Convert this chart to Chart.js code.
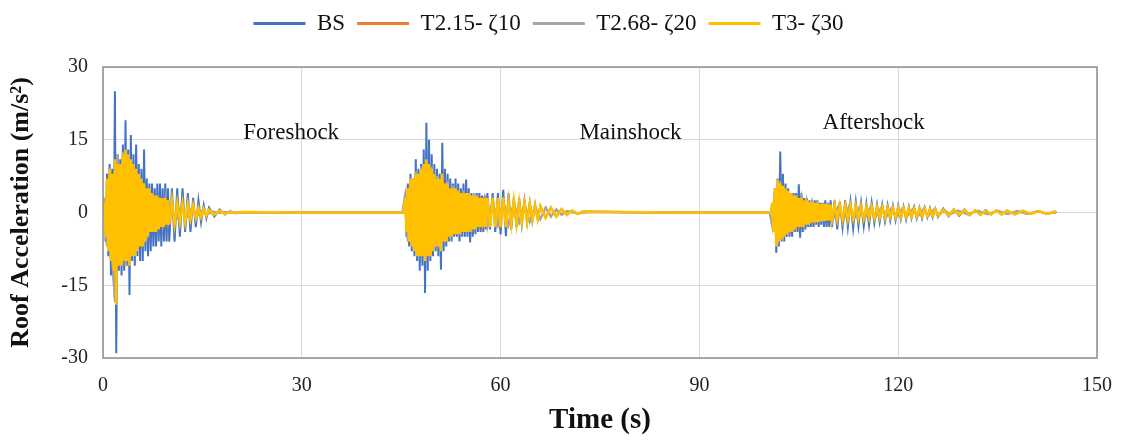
<!DOCTYPE html>
<html>
<head>
<meta charset="utf-8">
<script src="https://cdn.jsdelivr.net/npm/chart.js@4"></script>
<style>
  body { margin: 0; background: #fff; }
  #wrap { width: 1122px; height: 442px; position: relative; }
</style>
</head>
<body>
<div id="wrap"><canvas id="roofChart"></canvas></div>
<script>
// time (s) for the BS and T3 records (fine steps while shaking)
const time = [
  0, 0.2, 0.4, 0.6, 0.8, 1.0, 1.2, 1.4, 1.6, 1.8, 2.0, 2.2, 2.4, 2.6, 2.8, 3.0, 3.2, 3.4, 3.6, 3.8, 4.0, 4.2, 4.4, 4.6, 4.8, 5.0,
  5.2, 5.4, 5.6, 5.8, 6.0, 6.2, 6.4, 6.6, 6.8, 7.0, 7.2, 7.4, 7.6, 7.8, 8.0, 8.2, 8.4, 8.6, 8.8, 9.0, 9.2, 9.4, 9.6, 9.8, 10.0,
  10.4, 10.8, 11.2, 11.6, 12.0, 12.4, 12.8, 13.2, 13.6, 14.0, 14.4, 14.8, 15.2, 15.6, 16.0,
  16.8, 17.6, 18.4, 19.2, 20.0, 20.8, 30, 45.4,
  45.6, 45.8, 46.0, 46.2, 46.4, 46.6, 46.8, 47.0, 47.2, 47.4, 47.6, 47.8, 48.0, 48.2, 48.4, 48.6, 48.8, 49.0, 49.2, 49.4, 49.6, 49.8, 50.0, 50.2, 50.4, 50.6, 50.8, 51.0, 51.2, 51.4, 51.6,
  51.8, 52.0, 52.2, 52.4, 52.6, 52.8, 53.0, 53.2, 53.4, 53.6, 53.8, 54.0, 54.2, 54.4, 54.6, 54.8, 55.0, 55.2, 55.4, 55.6, 55.8, 56.0, 56.2, 56.4, 56.6, 56.8, 57.0, 57.2, 57.4, 57.6, 57.8, 58.0,
  58.4, 58.8, 59.2, 59.6, 60.0, 60.4, 60.8, 61.2, 61.6, 62.0, 62.4, 62.8, 63.2, 63.6, 64.0, 64.4, 64.8, 65.2, 65.6, 66.0,
  66.8, 67.6, 68.4, 69.2, 70.0, 70.8, 71.6, 72.4, 85, 100.8,
  101.0, 101.2, 101.4, 101.6, 101.8, 102.0, 102.2, 102.4, 102.6, 102.8, 103.0, 103.2, 103.4, 103.6, 103.8, 104.0, 104.2, 104.4, 104.6, 104.8, 105.0, 105.2, 105.4,
  105.6, 105.8, 106.0, 106.2, 106.4, 106.6, 106.8, 107.0, 107.2, 107.4, 107.6, 107.8, 108.0, 108.2, 108.4, 108.6, 108.8, 109.0, 109.2, 109.4, 109.6, 109.8, 110.0,
  110.4, 110.8, 111.2, 111.6, 112.0, 112.4, 112.8, 113.2, 113.6, 114.0, 114.4, 114.8, 115.2, 115.6, 116.0, 116.4, 116.8, 117.2, 117.6, 118.0,
  118.4, 118.8, 119.2, 119.6, 120.0, 120.4, 120.8, 121.2, 121.6, 122.0, 122.4, 122.8, 123.2, 123.6, 124.0, 124.4, 124.8, 125.2, 125.6, 126.0,
  126.8, 127.6, 128.4, 129.2, 130.0, 130.8, 131.6, 132.4, 133.2, 134.0, 134.8, 135.6, 136.4,
  137.6, 138.8, 140.0, 141.2, 142.4, 143.6, 143.9
];

// roof acceleration (m/s2), BS
const bs = [
  0, 3, -6, 8, -9, 10, -13, 9, -11, 25, -29, 12, -12, 11, -13, 14, -12, 19, -11, 13, -17, 16, -10, 12, -11, 14,
  -9, 10, -10, 9, -10, 13, -8, 7, -9, 6, -8, 6, -7, 5, -7, 6, -6, 6, -7, 5, -6, 6, -6, 5, -6,
  5, -6, 5, -5, 5, -4, 4, -4, 3, -3, 2.5, -2, 1.5, -1.2, 1,
  -0.8, 0.6, -0.4, 0.3, -0.2, 0.1, 0, 0,
  3, -5, 6, -7, 8, -8, 7, -9, 11, -10, 9, -12, 10, -11, 13, -16.6, 18.5, -12, 15, -10, 12, -9, 10, -8, 9, -9, 8, -11.8, 14.4, -8, 9,
  -7, 8, -6, 7, -6, 6, -5, 7, -5, 6, -6, 5, -5, 6, -5, 6.8, -5, 5, -6.2, 4, -5, 4, -4.5, 4, -4, 4, -4, 3.5, -4, 3.5, -3.5, 4,
  -3.5, 4, -4, 4, -4.5, 4.7, -4.9, 4, -3.5, 3, -3, 3, -2.5, 2.5, -2, 2, -1.8, 1.6, -1.4, 1.3,
  -1.1, 1, -0.8, 0.7, -0.5, 0.4, -0.3, 0.2, 0, 0,
  2, -4, 5, -8.3, 7, -7, 12.6, -6, 8, -6, 6, -5, 5, -5, 4, -5, 4, -4, 4, -4, 5.8, -5.2, 4,
  -4, 3, -3.5, 3, -3, 2.5, -3, 2.5, -3, 2.5, -2.5, 2.5, -3, 2, -2.5, 2, -3, 2.5, -3, 2, -3, 2.5, -3,
  2.5, -3.5, 2.2, -3, 2.5, -3, 2.2, -3.2, 2.2, -2.8, 2, -2.8, 1.8, -2.6, 2, -2.2, 1.6, -2, 1.6, -1.8,
  1.5, -1.6, 1.4, -1.6, 1.4, -1.4, 1.2, -1.4, 1.2, -1.2, 1.1, -1.2, 1, -1.2, 1, -1, 0.9, -1, 0.8, -0.9,
  0.8, -0.8, 0.7, -0.7, 0.6, -0.6, 0.5, -0.5, 0.5, -0.4, 0.4, -0.4, 0.4,
  -0.4, 0.3, -0.3, 0.3, -0.3, 0.2, 0
];

// roof acceleration (m/s2), T3- zeta30
const t3 = [
  0, 2, -5, 7, -8, 9, -10, 8, -12, 11, -19, 10, -11, 10, -11, 12, -10, 13, -10, 12, -11, 11, -9, 10, -9, 9,
  -8, 8, -7, 7, -7, 6, -6, 5, -5, 5, -4, 4, -4, 3.5, -4, 3.5, -3.5, 3, -3, 3, -3, 3, -2.5, 2.5, -2.5,
  2.5, -2.5, 2, -2, 2, -2, 1.8, -1.5, 1.5, -1.2, 1, -1, 0.8, -0.7, 0.6,
  -0.5, 0.4, -0.3, 0.2, -0.1, 0.1, 0, 0,
  3, -4, 5, -6, 7, -7, 7, -8, 8, -9, 8, -9, 9, -9, 10, -10, 11, -9, 10, -9, 9, -8, 8, -7, 7, -7, 7, -8, 8, -6, 6,
  -6, 6, -5, 5, -5, 5, -4.5, 5, -4.5, 4.5, -4.5, 4, -4, 4, -4, 4, -4, 4, -4, 3.5, -3.5, 3.5, -3.5, 3.5, -3, 3, -3, 3, -3, 3, -3, 3,
  -3, 3, -3, 3, -3, 3, -3, 2.5, -2.5, 2.5, -2.5, 2.2, -2, 2, -2, 1.8, -1.6, 1.5, -1.4, 1.3,
  -1.1, 1, -0.9, 0.7, -0.5, 0.4, -0.3, 0.2, 0, 0,
  2, -4, 5, -7, 6.8, -6, 6, -5.5, 5.5, -5, 5, -4.5, 4.5, -4, 4, -4, 3.5, -3.5, 3.5, -3, 3, -3, 3,
  -3, 2.5, -2.5, 2.5, -2.5, 2.2, -2.2, 2.2, -2, 2, -2, 2, -2, 1.8, -1.8, 1.8, -1.8, 1.8, -1.7, 1.7, -1.7, 1.6, -1.6,
  1.6, -1.6, 1.5, -1.5, 1.5, -1.5, 1.4, -1.4, 1.4, -1.4, 1.3, -1.3, 1.2, -1.2, 1.2, -1.2, 1.1, -1.1, 1.1, -1.1,
  1, -1, 1, -1, 1, -1, 0.9, -0.9, 0.9, -0.9, 0.8, -0.8, 0.8, -0.8, 0.7, -0.7, 0.7, -0.7, 0.7, -0.7,
  0.6, -0.6, 0.6, -0.5, 0.5, -0.5, 0.5, -0.5, 0.4, -0.4, 0.4, -0.4, 0.4,
  -0.4, 0.4, -0.3, 0.3, -0.3, 0.2, 0
];

// time (s) for the T2.15 and T2.68 records (mostly hidden under T3)
const timeCoarse = [
  0, 0.2, 0.6, 1.0, 1.4, 1.8, 2.2, 2.6, 3.0, 3.4, 3.8, 4.2, 4.6, 5.0, 5.4, 5.8, 6.2, 6.6, 7.0, 7.4,
  7.8, 8.2, 8.6, 9.0, 9.4, 9.8, 10.2, 11.0, 11.8, 12.6, 13.4, 14.2, 15.0, 15.8, 16.6, 17.4, 18.2, 19.0, 20.6, 25,
  35, 45.2,
  45.6, 46.0, 46.4, 46.8, 47.2, 47.6, 48.0, 48.4, 48.8, 49.2, 49.6, 50.0, 50.4, 50.8, 51.2, 51.6, 52.0, 52.4, 52.8, 53.2,
  53.6, 54.0, 54.4, 54.8, 55.2, 55.6, 56.0, 56.4, 56.8, 57.2, 57.6, 58.0, 58.8, 59.6, 60.4, 61.2, 62.0, 62.8, 63.6, 64.4,
  65.2, 66.0, 66.8, 67.6, 68.4, 69.2, 70.0, 71.6, 73.2, 80, 90, 100.6,
  101.0, 101.4, 101.8, 102.2, 102.6, 103.0, 103.4, 103.8, 104.2, 104.6, 105.0, 105.4, 105.8, 106.2, 106.6, 107.0, 107.4, 107.8, 108.6, 109.4,
  110.2, 111.0, 111.8, 112.6, 113.4, 114.2, 115.0, 115.8, 116.6, 117.4, 118.2, 119.0, 119.8, 120.6, 121.4, 122.2, 123.0, 123.8, 124.6, 125.4,
  126.2, 127.0, 127.8, 129.0, 130.5, 132.0, 133.5, 135.0, 136.5, 138.0, 139.5, 141.0, 142.5, 143.8
];
const t215 = [
  0, 3, -7, 9, -10, -18, 12, -10, 12, -11, 10, -8, 9, -7, 7, -6, 5, -5, 4, -4,
  3, -3, 3, -2.5, 2.5, -2, 2, -1.8, 1.3, -1, 0.8, -0.6, 0.4, -0.3, 0.2, -0.1, 0.1, 0, 0, 0,
  0, 0,
  3.5, -5.5, 6, -7, 8, -8, 9, -8, 10, -8, 9, -7, 7, -7, 7, -5, 6, -5, 5, -4.5,
  4.5, -4.5, 4.5, -3.5, 3.5, -3.5, 3.5, -3, 3, -2.5, 2.5, -2.5, 2.5, -2.5, 2.5, -2.5, 2, -2, 1.8, -1.8,
  1.3, -1.3, 1, -0.8, 0.6, -0.5, 0.3, -0.2, 0.1, 0, 0, 0,
  -2.5, 4.5, -6.5, 6, -5.5, 4.5, -4.5, 3.5, -3.5, 2.5, -2.5, 2.5, -2, 2, -1.8, 1.8, -1.8, 1.8, -1.5, 1.5,
  -1.3, 1.3, -1.3, 1.3, -1.1, 1.1, -1, 1, -0.9, 0.9, -0.9, 0.9, -0.8, 0.8, -0.7, 0.7, -0.7, 0.7, -0.6, 0.6,
  -0.5, 0.5, -0.4, 0.4, -0.3, 0.3, -0.3, 0.3, -0.3, 0.3, -0.3, 0.2, -0.2, 0
];
const t268 = [
  0, 3, -7, 9, -10, -18.5, 12, -10, 12.5, -11, 10.5, -8.5, 9.5, -7.5, 7.5, -6.5, 5.5, -5.5, 4.5, -4,
  3.5, -3.5, 3, -2.5, 2.5, -2, 2, -1.8, 1.4, -1.1, 0.9, -0.7, 0.4, -0.3, 0.2, -0.1, 0.1, 0, 0, 0,
  0, 0,
  4, -6, 6.5, -7.5, 8.5, -8.5, 9.5, -8.5, 10.5, -8.5, 9.5, -7.5, 7.5, -7.5, 7.5, -5.5, 6.5, -5.5, 5.5, -4.5,
  4.5, -4.5, 4.5, -4, 4, -4, 4, -3, 3, -3, 3, -3, 2.5, -2.5, 2.5, -2.5, 2, -2, 2, -2,
  1.4, -1.4, 1.1, -0.9, 0.7, -0.5, 0.3, -0.2, 0.1, 0, 0, 0,
  -3, 4.8, -6.8, 6.5, -5.8, 4.8, -4.8, 3.8, -3.8, 2.8, -2.8, 2.8, -2.3, 2.3, -1.9, 1.9, -1.9, 1.9, -1.6, 1.6,
  -1.4, 1.4, -1.4, 1.4, -1.2, 1.2, -1.1, 1.1, -0.9, 0.9, -0.9, 0.9, -0.8, 0.8, -0.7, 0.7, -0.7, 0.7, -0.6, 0.6,
  -0.5, 0.5, -0.4, 0.4, -0.4, 0.4, -0.4, 0.4, -0.3, 0.3, -0.3, 0.3, -0.2, 0
];

const seriesNames = ['BS', 'T2.15- \u03B610', 'T2.68- \u03B620', 'T3- \u03B630'];
const xTicks = [0, 30, 60, 90, 120, 150];
const yTicks = [-30, -15, 0, 15, 30];
const shockNames = ['Foreshock', 'Mainshock', 'Aftershock'];

const serif = '"Liberation Serif", "Times New Roman", serif';
const pts = (ts, vals) => ts.map((t, i) => ({x: t, y: vals[i]}));

const boxAndNotes = {
  id: 'boxAndNotes',
  afterDatasetsDraw(chart, args, opts) {
    const {ctx, chartArea: a, scales} = chart;
    ctx.save();
    ctx.strokeStyle = '#8f8f8f';
    ctx.lineWidth = 1.5;
    ctx.strokeRect(a.left, a.top, a.right - a.left, a.bottom - a.top);
    ctx.font = '23px ' + serif;
    ctx.fillStyle = '#111';
    ctx.textAlign = 'center';
    ctx.textBaseline = 'middle';
    opts.notes.forEach(n => {
      ctx.fillText(n.text, scales.x.getPixelForValue(n.x), scales.y.getPixelForValue(n.y));
    });
    ctx.restore();
  }
};

const chart = new Chart(document.getElementById('roofChart'), {
  type: 'line',
  data: {
    datasets: [
      {label: seriesNames[0], data: pts(time, bs), borderColor: '#4472C4', borderWidth: 2, order: 4},
      {label: seriesNames[1], data: pts(timeCoarse, t215), borderColor: '#ED7D31', borderWidth: 2, order: 3},
      {label: seriesNames[2], data: pts(timeCoarse, t268), borderColor: '#A5A5A5', borderWidth: 2, order: 2},
      {label: seriesNames[3], data: pts(time, t3), borderColor: '#FFC000', borderWidth: 2.5, order: 1}
    ]
  },
  options: {
    responsive: true,
    maintainAspectRatio: false,
    animation: false,
    parsing: false,
    normalized: true,
    elements: {point: {radius: 0}, line: {tension: 0}},
    layout: {padding: {left: 0, right: 25, top: 0, bottom: 0}},
    plugins: {
      tooltip: {enabled: false},
      legend: {
        position: 'top',
        labels: {
          usePointStyle: true,
          pointStyle: 'line',
          pointStyleWidth: 52,
          padding: 12,
          color: '#111',
          font: {family: serif, size: 23},
          sort: (a, b) => a.datasetIndex - b.datasetIndex,
          generateLabels: c => Chart.defaults.plugins.legend.labels.generateLabels(c)
            .map(l => ({...l, lineWidth: 3}))
        }
      },
      boxAndNotes: {
        notes: [
          {text: shockNames[0], x: 28.4, y: 16.5},
          {text: shockNames[1], x: 79.6, y: 16.5},
          {text: shockNames[2], x: 116.3, y: 18.4}
        ]
      }
    },
    scales: {
      x: {
        type: 'linear',
        min: xTicks[0],
        max: xTicks[xTicks.length - 1],
        afterBuildTicks: s => { s.ticks = xTicks.map(v => ({value: v})); },
        afterFit: s => { s.height = 84; },
        grid: {color: '#d9d9d9', drawTicks: true, tickLength: 13, tickColor: 'rgba(0,0,0,0)'},
        border: {display: false},
        ticks: {color: '#222', padding: 3, font: {family: serif, size: 20}, maxRotation: 0},
        title: {display: true, text: 'Time (s)', color: '#111', padding: {top: 4, bottom: 4},
          font: {family: serif, size: 29, weight: 'bold'}}
      },
      y: {
        min: yTicks[0],
        max: yTicks[yTicks.length - 1],
        afterBuildTicks: s => { s.ticks = yTicks.map(v => ({value: v})); },
        afterFit: s => { s.width = 103; },
        grid: {color: '#d9d9d9', drawTicks: false},
        border: {display: false},
        ticks: {color: '#222', padding: 15, font: {family: serif, size: 20}},
        title: {display: true, text: 'Roof Acceleration (m/s\u00B2)', color: '#111', padding: {top: 6, bottom: 0},
          font: {family: serif, size: 26, weight: 'bold'}}
      }
    }
  },
  plugins: [boxAndNotes]
});

// legend block takes the space above the plot, as in the reference
const legendFit = chart.legend.fit;
chart.legend.fit = function () { legendFit.call(this); this.height = 67; };
chart.update();
</script>
</body>
</html>
